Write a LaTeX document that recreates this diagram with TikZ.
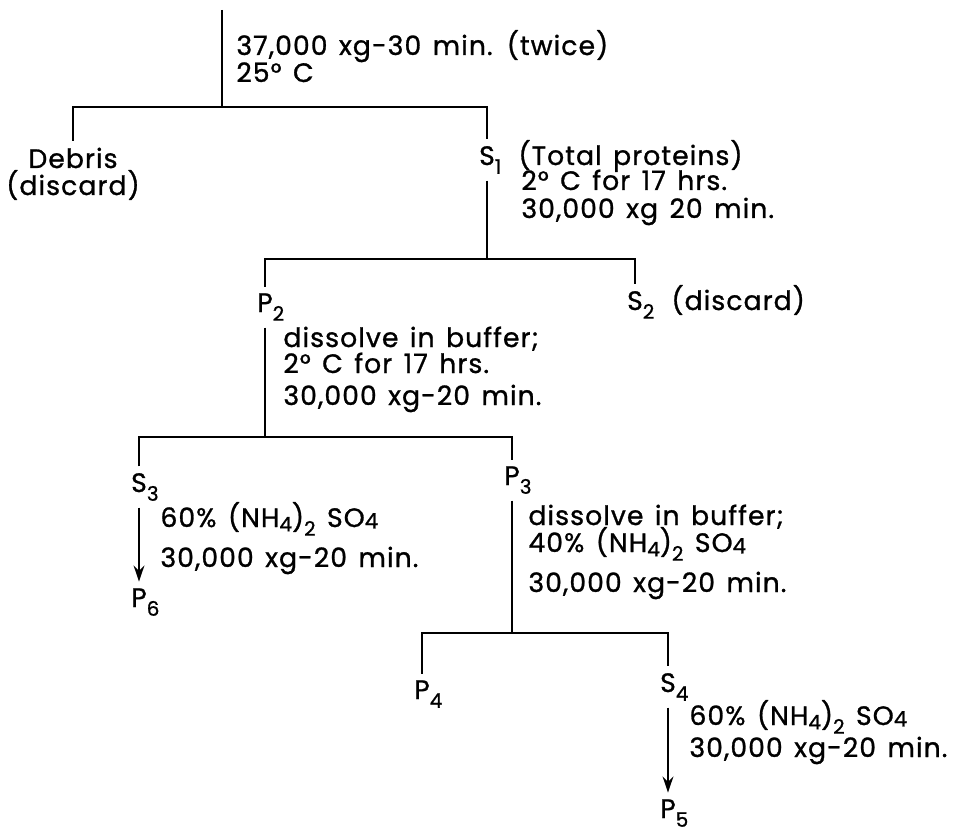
\documentclass[tikz,border=0pt]{standalone}
\usepackage{fontspec}
\setmainfont{Poppins}[LetterSpace=4,WordSpace=1.4,FakeBold=1]
\usetikzlibrary{arrows.meta}
\newcommand\sbs[1]{\raisebox{-0.6ex}{\fontsize{15}{15}\selectfont #1}}
\newcommand\nhf{(NH\raisebox{-0.3ex}{\fontsize{15}{15}\selectfont 4})\sbs{2}\ SO\raisebox{-0.1ex}{\fontsize{16}{16}\selectfont 4}}
\begin{document}
\begin{tikzpicture}[x=0.75pt,y=-0.75pt,line width=2.2pt,
 txt/.style={font=\fontsize{20}{25}\selectfont, inner sep=0pt, anchor=base west},
 ltr/.style={font=\fontsize{20}{25}\selectfont, inner sep=4pt, anchor=base},
 arr/.style={-{Stealth[length=12pt,width=8pt]}}]
\useasboundingbox (0,0) rectangle (968,838);
% first spin
\coordinate (top) at (222,10);
\coordinate (j1) at (222,107);
\node[txt] (t0a) at (235,55) {37,000 xg-30 min. (twice)};
\node[txt] (t0b) at (235,82) {25° C};
\node[ltr] (debris) at (73,168) {Debris};
\node[txt,anchor=base] (debris2) at (73,195) {(discard)};
\node[ltr] (s1) at (487,165) {S\rlap{\sbs{1}}};
\node[txt] (s1t) at (517,165) {(Total proteins)};
\node[txt] (t1a) at (520,190) {2° C for 17 hrs.};
\node[txt] (t1b) at (520,218) {30,000 xg 20 min.};
% second spin
\coordinate (j2) at (487,259);
\node[ltr] (p2) at (265,312) {P\rlap{\sbs{2}}};
\node[ltr] (s2) at (635,310) {S\rlap{\sbs{2}}};
\node[txt] (s2t) at (670,310) {(discard)};
\node[txt] (t2a) at (282,347) {dissolve in buffer;};
\node[txt] (t2b) at (282,373) {2° C for 17 hrs.};
\node[txt] (t2c) at (282,405) {30,000 xg-20 min.};
% third spin
\coordinate (j3) at (265,437);
\node[ltr] (s3) at (139,492) {S\rlap{\sbs{3}}};
\node[ltr] (p3) at (512,485) {P\rlap{\sbs{3}}};
\node[ltr] (p6) at (139,607) {P\rlap{\sbs{6}}};
\node[txt] (t3a) at (159,527) {60\% \nhf};
\node[txt] (t3b) at (159,567) {30,000 xg-20 min.};
\node[txt] (t4a) at (527,525) {dissolve in buffer;};
\node[txt] (t4b) at (527,552) {40\% \nhf};
\node[txt] (t4c) at (527,592) {30,000 xg-20 min.};
% fourth spin
\coordinate (j4) at (512,633);
\node[ltr] (p4) at (422,699) {P\rlap{\sbs{4}}};
\node[ltr] (s4) at (668,692) {S\rlap{\sbs{4}}};
\node[ltr] (p5) at (668,818) {P\rlap{\sbs{5}}};
\node[txt] (t5a) at (688,725) {60\% \nhf};
\node[txt] (t5b) at (688,757) {30,000 xg-20 min.};
% connectors
\draw (top) -- (j1);
\draw (debris.north) |- (j1) -| (s1.north);
\draw (s1.south) -- (j2);
\draw (p2.north) |- (j2) -| (s2.north);
\draw (p2.south) -- (j3);
\draw (s3.north) |- (j3) -| (p3.north);
\draw[arr] (s3.south) -- (p6.north);
\draw (p3.south) -- (j4);
\draw (p4.north) |- (j4) -| (s4.north);
\draw[arr] (s4.south) -- (p5.north);
\end{tikzpicture}
\end{document}
